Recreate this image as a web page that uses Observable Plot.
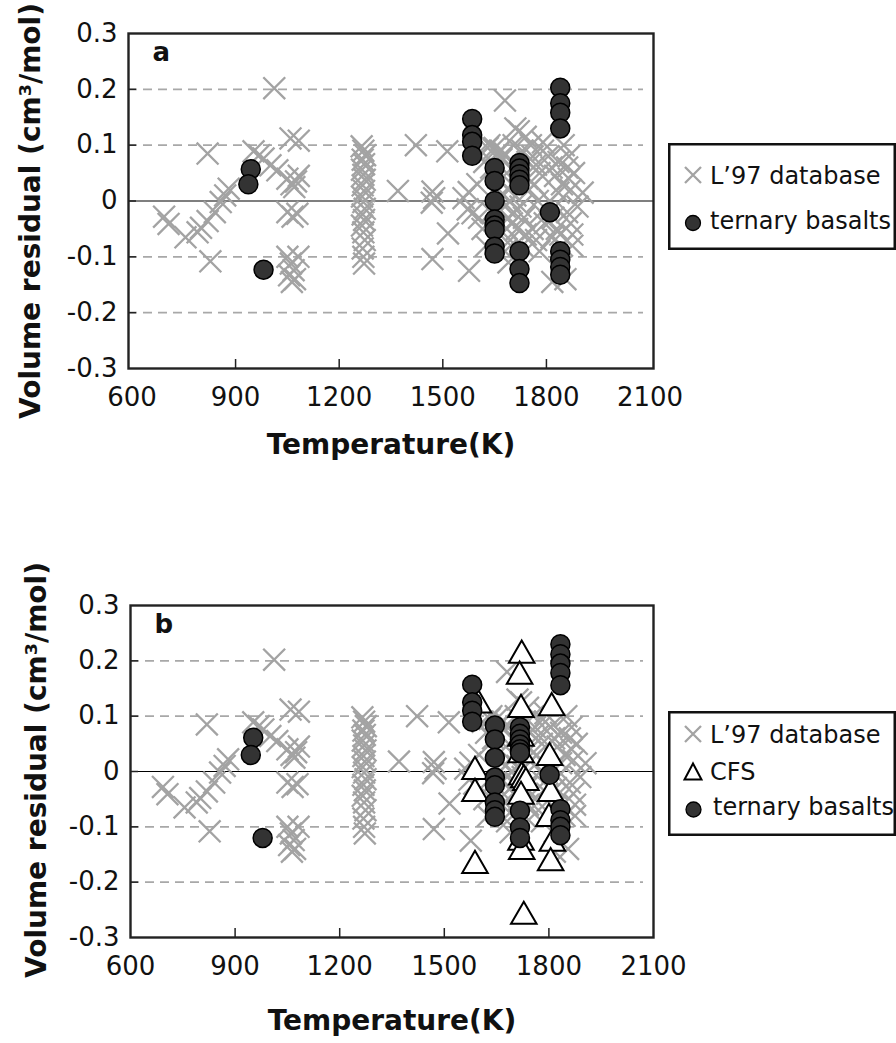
<!DOCTYPE html>
<html><head><meta charset="utf-8">
<script src="https://cdn.jsdelivr.net/npm/d3@7"></script>
<script src="https://cdn.jsdelivr.net/npm/@observablehq/plot@0.6"></script>
<style>
body{margin:0;background:#fff;}
#root{position:relative;width:896px;height:1043px;overflow:hidden;font-family:"DejaVu Sans",sans-serif;background:#fff;}
#root > div{position:absolute;}
svg{overflow:visible;}
.ytitle{white-space:nowrap;font-weight:bold;font-size:28px;color:#111;line-height:1;transform:translate(-50%,-50%) rotate(-90deg);}
</style></head><body><div id="root"></div>
<script>
// ---------- data ----------
const xTicks = [600, 900, 1200, 1500, 1800, 2100];
const yTicks = [-0.3, -0.2, -0.1, 0, 0.1, 0.2, 0.3];
const gridValues = [-0.2, -0.1, 0.1, 0.2];
const xTitle = "Temperature(K)";
const yTitle = "Volume residual (cm³/mol)";
const legendNames = ["L’97 database", "CFS", "ternary basalts"];

// L'97 database (temperature K, residual)
const l97T = [693,706,755,790,800,819,827,819,840,857,870,880,952,968,981,1001,1021,1012,1059,1083,
  1050,1062,1070,1083,1075,1050,1065,1079,1050,1060,1068,1055,1072,1082,1063,
  1265,1270,1275,1268,1272,1266,1270,1274,1268,1272,1266,1270,1274,1268,1272,1266,1270,1274,1268,1270,1272,
  1370,1422,1470,1468,1475,1470,1513,1515,1575,1572,1586,1576,1560,
  1610,1620,1630,1640,1605,1615,1625,1640,1600,1635,1650,1665,1680,
  1660,1670,1680,1685,1690,1695,1680,1690,1685,1695,1680,1690,1700,1700,1675,1665,
  1710,1720,1740,1705,1730,1745,1710,1725,1735,1715,1740,1730,1750,1745,1705,
  1760,1770,1780,1790,1765,1775,1785,1795,1760,1770,1780,1790,1755,
  1805,1815,1825,1835,1845,1810,1820,1830,1840,1815,1845,1825,1835,1817,1850,
  1855,1860,1865,1870,1860,1870,1875,1880,1890,1905,1865,1875];
const l97V = [-0.028,-0.041,-0.065,-0.056,-0.048,-0.036,-0.108,0.085,-0.02,-0.002,0.01,0.022,0.089,0.082,0.076,0.064,0.055,0.202,0.112,0.108,
  0.04,0.03,0.025,0.045,0.035,-0.02,-0.028,-0.023,-0.1,-0.112,-0.124,-0.133,-0.14,-0.1,-0.145,
  0.098,0.09,0.082,0.074,0.066,0.056,0.047,0.038,0.028,0.018,0.008,-0.002,-0.014,-0.024,-0.034,-0.044,-0.056,-0.07,-0.085,-0.1,-0.112,
  0.018,0.1,0.017,-0.003,0.005,-0.104,0.089,-0.058,0.016,-0.015,-0.022,-0.125,0.005,
  0.09,0.07,0.095,0.06,-0.03,-0.05,-0.08,-0.02,0.03,0.1,0.095,0.09,0.085,
  0.085,0.075,0.18,0.05,0.02,0.0,-0.01,-0.03,-0.05,-0.07,-0.09,-0.11,-0.04,0.03,0.01,-0.06,
  0.13,0.125,0.115,0.1,0.09,0.07,0.01,-0.01,-0.03,-0.05,-0.06,-0.08,0.02,0.04,-0.02,
  0.08,0.065,0.05,0.09,0.03,0.0,-0.02,-0.04,-0.05,-0.07,-0.09,0.105,0.1,
  0.08,0.06,0.045,0.07,0.03,0.0,-0.03,-0.05,-0.06,-0.065,-0.08,-0.01,0.015,-0.145,0.1,
  -0.14,0.06,0.04,0.02,-0.02,-0.04,-0.06,0.05,-0.01,0.015,0.08,-0.08];

// ternary basalts, panel a
const basaltAT = [944,937,981,1585,1585,1585,1585,1650,1650,1650,1650,1650,1650,1650,1650,
  1722,1722,1722,1722,1722,1722,1722,1722,1810,1840,1840,1840,1840,1840,1840,1840,1840];
const basaltAV = [0.057,0.03,-0.123,0.147,0.118,0.106,0.081,0.059,0.036,0.0,-0.033,-0.044,-0.052,-0.082,-0.094,
  0.068,0.058,0.048,0.038,0.028,-0.09,-0.122,-0.147,-0.02,0.203,0.175,0.158,0.13,-0.09,-0.105,-0.118,-0.132];

// ternary basalts, panel b
const basaltBT = [952,945,979,1580,1580,1580,1580,1645,1645,1645,1645,1645,1645,1645,1645,
  1717,1717,1717,1717,1717,1717,1717,1717,1717,1802,1833,1833,1833,1833,1833,1833,1833,1833,1833];
const basaltBV = [0.061,0.03,-0.12,0.157,0.125,0.11,0.09,0.083,0.058,0.025,-0.011,-0.025,-0.056,-0.07,-0.082,
  0.08,0.068,0.058,0.049,0.04,0.034,-0.071,-0.101,-0.12,-0.006,0.23,0.212,0.195,0.178,0.156,-0.068,-0.088,-0.1,-0.115];

// CFS, panel b
const cfsT = [1722,1716,1598,1720,1808,1720,1720,1588,1588,1722,1728,1734,1720,1802,1805,1800,1810,1805,1720,1722,1588,1728];
const cfsV = [0.21,0.172,0.12,0.112,0.115,0.06,0.03,0.0,-0.04,-0.01,-0.015,-0.02,-0.045,0.025,-0.04,-0.085,-0.13,-0.165,-0.128,-0.145,-0.17,-0.262];

// ---------- rendering ----------
const toRows = (T, V) => T.map((t, i) => ({t, v: V[i]}));
const l97 = toRows(l97T, l97V);

function panel({letter, basalt, cfs, xDomain, width, height, mL, mR, mT, mB, xTitleDy}) {
  const innerH = height - mT - mB, innerW = width - mL - mR;
  const marks = [
    Plot.ruleY(gridValues, {stroke: "#a8a8a8", strokeWidth: 1.6, strokeDasharray: "9,6", insetRight: 10}),
    Plot.ruleY([0], {stroke: "#000", strokeWidth: 1.2}),
    Plot.tickX(xTicks.slice(1, -1), {x: d => d, insetTop: innerH - 9, stroke: "#222", strokeWidth: 1.5}),
    Plot.tickY(gridValues.concat([0]), {y: d => d, insetRight: innerW - 8, stroke: "#222", strokeWidth: 1.5}),
    Plot.dot(l97, {x: "t", y: "v", symbol: "times", r: 10, stroke: "#a3a3a3", strokeWidth: 2.3})
  ];
  if (cfs) marks.push(Plot.dot(cfs, {x: "t", y: "v", symbol: "triangle", r: 9.5, fill: "#fff", stroke: "#000", strokeWidth: 2}));
  marks.push(Plot.dot(basalt, {x: "t", y: "v", r: 9.5, fill: "#333", stroke: "#000", strokeWidth: 1.5}));
  marks.push(Plot.frame({stroke: "#222", strokeWidth: 2.4}));
  marks.push(Plot.axisX(xTicks, {tickSize: 0, tickPadding: 19, fontSize: 26, label: null, tickFormat: d => String(d)}));
  marks.push(Plot.axisY(yTicks, {tickSize: 0, tickPadding: 11, fontSize: 26, label: null,
    tickFormat: d => d === 0 ? "0" : d.toFixed(1)}));
  marks.push(Plot.text([letter], {frameAnchor: "top-left", dx: 24, dy: 9, textAnchor: "start", lineAnchor: "top", fontWeight: "bold", fontSize: 26}));
  marks.push(Plot.text([xTitle], {frameAnchor: "bottom", dy: xTitleDy, lineAnchor: "top", fontWeight: "bold", fontSize: 28}));
  return Plot.plot({
    width, height, marginLeft: mL, marginRight: mR, marginTop: mT, marginBottom: mB,
    style: {fontFamily: "DejaVu Sans, sans-serif", fontSize: "26px", color: "#111", background: "transparent", overflow: "visible"},
    x: {domain: xDomain},
    y: {domain: [-0.3, 0.3]},
    marks
  });
}

function legend(items, w, h, rows) {
  const svg = d3.create("svg").attr("width", w).attr("height", h)
    .attr("font-family", "DejaVu Sans, sans-serif").attr("font-size", 24).style("overflow", "hidden");
  svg.append("rect").attr("x", 1.25).attr("y", 1.25).attr("width", w - 2.5).attr("height", h - 2.5)
    .attr("fill", "#fff").attr("stroke", "#111").attr("stroke-width", 2.5);
  items.forEach((it, i) => {
    const r = rows[i];
    const g = svg.append("g").attr("transform", `translate(${r.mx},${r.my})`);
    if (it.kind === "times") {
      g.append("path").attr("d", "M-8,-8L8,8M-8,8L8,-8").attr("stroke", "#a3a3a3").attr("stroke-width", 2.3);
    } else if (it.kind === "triangle") {
      g.append("path").attr("d", "M0,-8.5L8.5,7.5L-8.5,7.5Z").attr("fill", "#fff").attr("stroke", "#000").attr("stroke-width", 2);
    } else {
      g.append("circle").attr("r", 7.5).attr("fill", "#333").attr("stroke", "#000").attr("stroke-width", 1.3);
    }
    svg.append("text").attr("x", r.tx).attr("y", r.ty).attr("fill", "#111").text(it.name);
  });
  return svg.node();
}

const root = document.getElementById("root");
function place(node, left, top) {
  const d = document.createElement("div");
  d.style.left = left + "px"; d.style.top = top + "px";
  d.appendChild(node); root.appendChild(d);
}
function yTitleAt(cx, cy) {
  const d = document.createElement("div");
  d.className = "ytitle";
  d.style.left = cx + "px"; d.style.top = cy + "px";
  d.textContent = yTitle;
  root.appendChild(d);
}

place(panel({letter: "a", basalt: toRows(basaltAT, basaltAV), cfs: null, xDomain: [590, 2110],
  width: 660, height: 470, mL: 128, mR: 7, mT: 33, mB: 102, xTitleDy: 66}), 0, 0);
place(panel({letter: "b", basalt: toRows(basaltBT, basaltBV), cfs: toRows(cfsT, cfsV), xDomain: [600, 2100],
  width: 660, height: 473, mL: 130, mR: 7, mT: 35, mB: 106, xTitleDy: 73}), 0, 570);
yTitleAt(31, 211);
yTitleAt(37, 770);

place(legend([{kind: "times", name: legendNames[0]}, {kind: "circle", name: legendNames[2]}], 228, 107,
  [{mx: 25, my: 32, tx: 42, ty: 40.5}, {mx: 25, my: 80, tx: 42, ty: 85.5}]), 668, 143);
place(legend([{kind: "times", name: legendNames[0]}, {kind: "triangle", name: legendNames[1]}, {kind: "circle", name: legendNames[2]}], 228, 125,
  [{mx: 25, my: 23, tx: 42, ty: 32}, {mx: 25, my: 61, tx: 42, ty: 69}, {mx: 25.5, my: 98.5, tx: 45, ty: 104}]), 668, 711);
</script></body></html>
